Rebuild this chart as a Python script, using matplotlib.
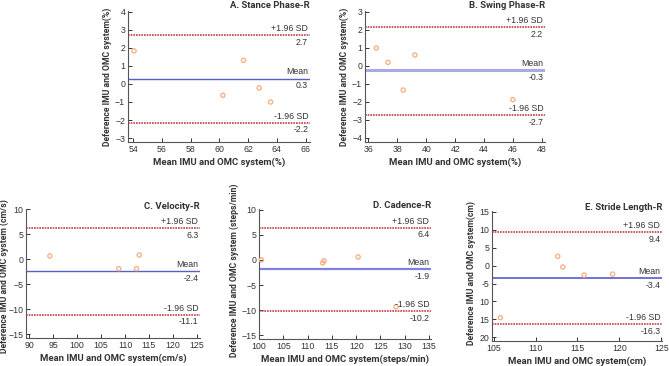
import matplotlib
matplotlib.use("Agg")
import matplotlib.pyplot as plt
from matplotlib import font_manager

W, H = 669, 366
fig = plt.figure(figsize=(W/100, H/100), dpi=100)
plt.rcParams['font.family'] = ['Liberation Sans', 'DejaVu Sans']
names = {f.name for f in font_manager.fontManager.ttflist}
narrow = ['Liberation Sans Narrow', 'Liberation Sans'] if 'Liberation Sans Narrow' in names else ['Roboto', 'Liberation Sans']

# ---- data ----
titles = ["A. Stance Phase-R", "B. Swing Phase-R", "C. Velocity-R", "D. Cadence-R", "E. Stride Length-R"]
ylabels = ["Deference IMU and OMC system(%)", "Deference IMU and OMC system(%)",
           "Deference IMU and OMC system (cm/s)", "Deference IMU and OMC system (steps/min)",
           "Deference IMU and OMC system(cm)"]
xlabels = ["Mean IMU and OMC system(%)", "Mean IMU and OMC system(%)",
           "Mean IMU and OMC system(cm/s)", "Mean IMU and OMC system(steps/min)",
           "Mean IMU and OMC system(cm)"]

a_mean = [54.07, 61.68, 60.25, 62.77, 63.56]
a_diff = [1.84, 1.31, -0.63, -0.22, -1.0]
b_mean = [36.55, 37.36, 39.22, 38.41, 45.98]
b_diff = [0.99, 0.19, 0.6, -1.35, -1.88]
c_mean = [94.3, 108.7, 112.4, 113.0]
c_diff = [0.67, -1.87, -1.87, 0.87]
d_mean = [100.5, 113.1, 113.4, 120.4, 128.2]
d_diff = [-0.01, -0.6, -0.2, 0.58, -9.3]
e_mean = [105.8, 112.65, 113.25, 115.8, 119.2]
e_diff = [-14.5, 2.58, -0.4, -2.65, -2.37]

upper = [2.7, 2.2, 6.3, 6.4, 9.4]
means = [0.3, -0.3, -2.4, -1.9, -3.4]
lower = [-2.2, -2.7, -11.1, -10.2, -16.3]
# plotted line positions (slightly off the rounded labels)
upper_pos = [2.72, 2.16, 6.3, 6.4, 9.4]
mean_pos = [0.3, -0.25, -2.4, -1.9, -3.4]
lower_pos = [-2.15, -2.76, -11.1, -10.2, -16.3]

xticks = [list(range(54, 67, 2)), list(range(36, 49, 2)), list(range(90, 126, 5)),
          list(range(100, 136, 5)), list(range(105, 126, 5))]
yticks = [list(range(-3, 5)), list(range(-4, 4)), list(range(-15, 11, 5)),
          list(range(-15, 11, 5)), list(range(-20, 16, 5))]
e_yticklabels = ["20", "15", "10", "-5", "0", "5", "10", "15"]

# ---- layout (pixels: left, right, top, bottom) ----
boxes = [(128, 310, 11, 142), (365, 545, 11, 142), (26, 200, 209, 338),
         (259, 431, 209, 339), (492, 662, 211, 341)]
xlims = [(53.65, 66.3), (35.77, 48.2), (89.3, 125.7), (100.0, 135.4), (104.8, 125.1)]
ylims = [(-3.22, 4.05), (-4.24, 3.05), (-15.8, 10.1), (-15.7, 10.1), (-21.0, 15.2)]
mean_colors = ["#5a5fc8", "#a9a9e6", "#5a5fc8", "#8080e0", "#7070d8"]
mean_lw = [1.0, 2.2, 1.0, 1.6, 1.4]
title_y = [0.5, 0.5, 202, 201, 203]
ylabel_x = [112, 349, 9, 239, 476]
ylabel_y = [77, 77, 276, 270, 273]

data = [(a_mean, a_diff), (b_mean, b_diff), (c_mean, c_diff), (d_mean, d_diff), (e_mean, e_diff)]

for i in range(5):
    l, r, t, b = boxes[i]
    ax = fig.add_axes([l/W, 1 - b/H, (r-l)/W, (b-t)/H])
    ax.set_xlim(*xlims[i]); ax.set_ylim(*ylims[i])
    for s in ['top', 'right']:
        ax.spines[s].set_visible(False)
    for s in ['left', 'bottom']:
        ax.spines[s].set_color('#555555'); ax.spines[s].set_linewidth(0.8)
    ax.set_xticks(xticks[i]); ax.set_yticks(yticks[i])
    if i == 4:
        ax.set_yticklabels(e_yticklabels)
    ax.tick_params(direction='in', length=3, width=0.7, colors='#333333', labelsize=6.3, pad=2)
    mx, dy = data[i]
    ax.scatter(mx, dy, s=9, facecolors='none', edgecolors='#f5b38a', linewidths=1.0, zorder=3, clip_on=False)
    ax.axhline(upper_pos[i], color='#c0404a', ls=(0, (1, 0.6)), lw=1.2)
    ax.axhline(lower_pos[i], color='#c0404a', ls=(0, (1, 0.6)), lw=1.2)
    ax.axhline(mean_pos[i], color=mean_colors[i], lw=mean_lw[i])
    x1 = xlims[i][1] - 0.01*(xlims[i][1]-xlims[i][0])
    for pos, lab, val in [(upper_pos[i], "+1.96 SD", upper[i]), (mean_pos[i], "Mean", means[i]), (lower_pos[i], "-1.96 SD", lower[i])]:
        ax.annotate(lab, (x1, pos), xytext=(0, 1.5), textcoords='offset points', ha='right', va='bottom', fontsize=6.3, color='#333333')
        ax.annotate(f"{val:.1f}", (x1, pos), xytext=(0, -2), textcoords='offset points', ha='right', va='top', fontsize=6.3, color='#333333')
    ax.set_xlabel(xlabels[i], fontsize=6.8, fontweight='bold', color='#333333', labelpad=3, family=narrow)
    ax.set_ylabel(ylabels[i], fontsize=6.2, fontweight='bold', color='#333333', family=narrow)
    ax.yaxis.set_label_coords((ylabel_x[i] - l) / (r - l), (b - ylabel_y[i]) / (b - t))
    fig.text(r/W, 1 - title_y[i]/H, titles[i], ha='right', va='top', fontsize=6.8, fontweight='bold', color='#333333', family=narrow)

fig.savefig("out.png", dpi=100)
